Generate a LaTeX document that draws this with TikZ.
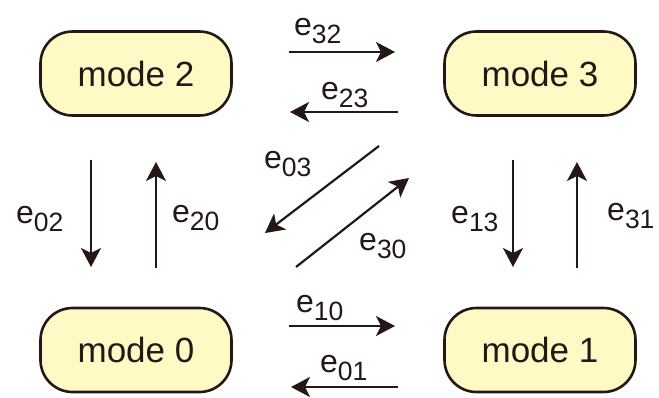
\documentclass[tikz,border=0pt]{standalone}
\usepackage{fontspec}
\setmainfont{Liberation Sans}
\usetikzlibrary{arrows.meta}
\definecolor{ink}{HTML}{231815}
\definecolor{modefill}{HTML}{FFF9C6}
\newcommand\elab[2]{{\fontsize{32}{32}\selectfont e}\raisebox{-8.5pt}{\fontsize{26.5}{26.5}\selectfont #2}}
\tikzset{
  modebox/.style={draw=ink, line width=2.6pt, fill=modefill, rounded corners=32pt,
    minimum width=191pt, minimum height=84pt, inner sep=0pt, text=ink,
    font=\fontsize{35}{35}\selectfont},
  trans/.style={draw=ink, line width=2.2pt, -{Stealth[length=19pt,width=20pt,inset=5pt]}},
  elabel/.style={anchor=base west, inner sep=0pt, text=ink}
}
\begin{document}
\begin{tikzpicture}[x=1pt,y=-1pt]
\useasboundingbox (0,0) rectangle (659,397);
\node[modebox] (m2) at (136,73.5) {mode 2};
\node[modebox] (m3) at (540,73.5) {mode 3};
\node[modebox] (m0) at (136,350) {mode 0};
\node[modebox] (m1) at (540,350) {mode 1};
% endpoints
\coordinate (a32s) at (289,52);  \coordinate (a32e) at (395,52);
\coordinate (a23s) at (398,112); \coordinate (a23e) at (290,112);
\coordinate (a02s) at (91,160);  \coordinate (a02e) at (91,267);
\coordinate (a20s) at (156,268); \coordinate (a20e) at (156,162);
\coordinate (a13s) at (513,160); \coordinate (a13e) at (513,267);
\coordinate (a31s) at (577,268); \coordinate (a31e) at (577,162);
\coordinate (a10s) at (289,326); \coordinate (a10e) at (395,326);
\coordinate (a01s) at (398,387); \coordinate (a01e) at (291,387);
\coordinate (a03s) at (379,146); \coordinate (a03e) at (265,233);
\coordinate (a30s) at (296,267); \coordinate (a30e) at (409,178);
\draw[trans] (a32s) -- (a32e);
\draw[trans] (a23s) -- (a23e);
\draw[trans] (a02s) -- (a02e);
\draw[trans] (a20s) -- (a20e);
\draw[trans] (a13s) -- (a13e);
\draw[trans] (a31s) -- (a31e);
\draw[trans] (a10s) -- (a10e);
\draw[trans] (a01s) -- (a01e);
\draw[trans] (a03s) -- (a03e);
\draw[trans] (a30s) -- (a30e);
% labels
\node[elabel] (l32) at (294,35) {\elab{e}{32}};
\node[elabel] (l23) at (321,99) {\elab{e}{23}};
\node[elabel] (l02) at (16,223) {\elab{e}{02}};
\node[elabel] (l20) at (172,222) {\elab{e}{20}};
\node[elabel] (l13) at (451,223) {\elab{e}{13}};
\node[elabel] (l31) at (607,220) {\elab{e}{31}};
\node[elabel] (l10) at (296,312) {\elab{e}{10}};
\node[elabel] (l01) at (320,372) {\elab{e}{01}};
\node[elabel] (l03) at (264,168) {\elab{e}{03}};
\node[elabel] (l30) at (359,250) {\elab{e}{30}};
\end{tikzpicture}
\end{document}
